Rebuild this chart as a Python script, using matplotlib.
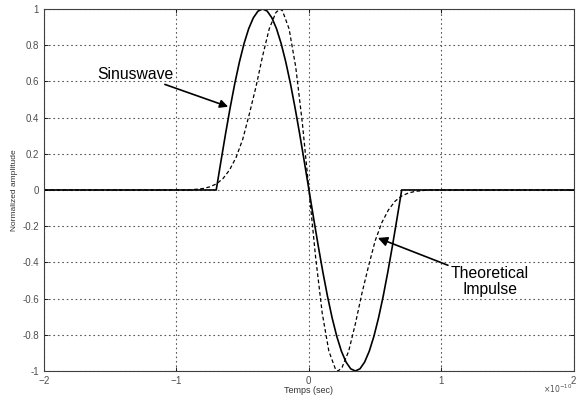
import matplotlib.pyplot as plt
import numpy as np
from matplotlib.ticker import ScalarFormatter

plt.rcParams['font.family'] = ['Liberation Sans', 'DejaVu Sans']
plt.rcParams['axes.unicode_minus'] = False

# time axis in units of 1e-10 s
sin_t = [-2.0, -0.700, -0.665, -0.630, -0.595, -0.560, -0.525, -0.490, -0.455, -0.420,
         -0.385, -0.350, -0.315, -0.280, -0.245, -0.210, -0.175, -0.140, -0.105, -0.070,
         -0.035, 0.0, 0.035, 0.070, 0.105, 0.140, 0.175, 0.210, 0.245, 0.280, 0.315,
         0.350, 0.385, 0.420, 0.455, 0.490, 0.525, 0.560, 0.595, 0.630, 0.665, 0.700, 2.0]
sin_y = [0.0, 0.0, 0.156, 0.309, 0.454, 0.588, 0.707, 0.809, 0.891, 0.951,
         0.988, 1.0, 0.988, 0.951, 0.891, 0.809, 0.707, 0.588, 0.454, 0.309,
         0.156, 0.0, -0.156, -0.309, -0.454, -0.588, -0.707, -0.809, -0.891, -0.951, -0.988,
         -1.0, -0.988, -0.951, -0.891, -0.809, -0.707, -0.588, -0.454, -0.309, -0.156, 0.0, 0.0]

imp_t = [-2.0, -1.0, -0.95, -0.90, -0.85, -0.80, -0.75, -0.70, -0.65, -0.60, -0.55,
         -0.50, -0.45, -0.40, -0.35, -0.30, -0.25, -0.22, -0.20, -0.15, -0.10, -0.05,
         0.0, 0.05, 0.10, 0.15, 0.20, 0.22, 0.25, 0.30, 0.35, 0.40, 0.45, 0.50,
         0.55, 0.60, 0.65, 0.70, 0.75, 0.80, 0.85, 0.90, 0.95, 1.0, 2.0]
imp_y = [0.0, 0.0, 0.0, 0.0, 0.004, 0.008, 0.017, 0.033, 0.062, 0.11, 0.18,
         0.28, 0.42, 0.57, 0.74, 0.89, 0.98, 1.0, 0.99, 0.89, 0.68, 0.37,
         0.0, -0.37, -0.68, -0.89, -0.99, -1.0, -0.98, -0.89, -0.74, -0.57, -0.42, -0.28,
         -0.18, -0.11, -0.062, -0.033, -0.017, -0.008, -0.004, 0.0, 0.0, 0.0, 0.0]

xticks = [-2, -1, 0, 1, 2]
yticks = [-1, -0.8, -0.6, -0.4, -0.2, 0, 0.2, 0.4, 0.6, 0.8, 1]

fig = plt.figure(figsize=(5.76, 3.95), dpi=100)
ax = fig.add_axes([0.0764, 0.0608, 0.920, 0.9165])

scale = 1e-10
ax.plot(np.array(imp_t) * scale, imp_y, color='black', lw=0.9, ls=(0, (3, 2)))
ax.plot(np.array(sin_t) * scale, sin_y, color='black', lw=1.2)

ax.set_xlim(-2 * scale, 2 * scale)
ax.set_ylim(-1, 1)
ax.set_xticks(np.array(xticks) * scale)
ax.set_yticks(yticks)
ax.set_yticklabels(['-1', '-0.8', '-0.6', '-0.4', '-0.2', '0', '0.2', '0.4', '0.6', '0.8', '1'])

# tick labels in units of 1e-10, exponent drawn separately in the corner
fmt = ScalarFormatter(useMathText=True)
fmt.set_powerlimits((0, 0))
ax.xaxis.set_major_formatter(fmt)
ax.xaxis.get_offset_text().set_visible(False)
fig.text(0.993, 0.001, r'$\times10^{-10}$', fontsize=5.5, color='0.3', ha='right', va='bottom')

ax.grid(True, color='0.35', ls=(0, (1.5, 2.5)), lw=0.8)
ax.tick_params(direction='in', labelsize=7, labelcolor='0.3', length=3, width=0.6,
               top=True, right=True)
ax.tick_params(axis='x', pad=2)
for s in ax.spines.values():
    s.set_linewidth(0.8)
    s.set_color('0.25')

ax.set_xlabel('Temps (sec)', fontsize=6.5, color='0.2', labelpad=0)
ax.set_ylabel('Normalized amplitude', fontsize=6, color='0.2', labelpad=3)

ax.annotate('Sinuswave', xy=(-0.61 * scale, 0.46), xytext=(-1.02 * scale, 0.64),
            fontsize=11.3, ha='right', va='center',
            arrowprops=dict(arrowstyle='-|>', color='black', lw=1.2,
                            mutation_scale=12, shrinkA=0, shrinkB=0))
ax.annotate('Theoretical\nImpulse', xy=(0.52 * scale, -0.265), xytext=(1.07 * scale, -0.42),
            fontsize=11.3, ha='left', va='top', multialignment='center',
            linespacing=1.1,
            arrowprops=dict(arrowstyle='-|>', color='black', lw=1.2,
                            mutation_scale=14, shrinkA=0, shrinkB=0))

fig.savefig('out.png', dpi=100)
